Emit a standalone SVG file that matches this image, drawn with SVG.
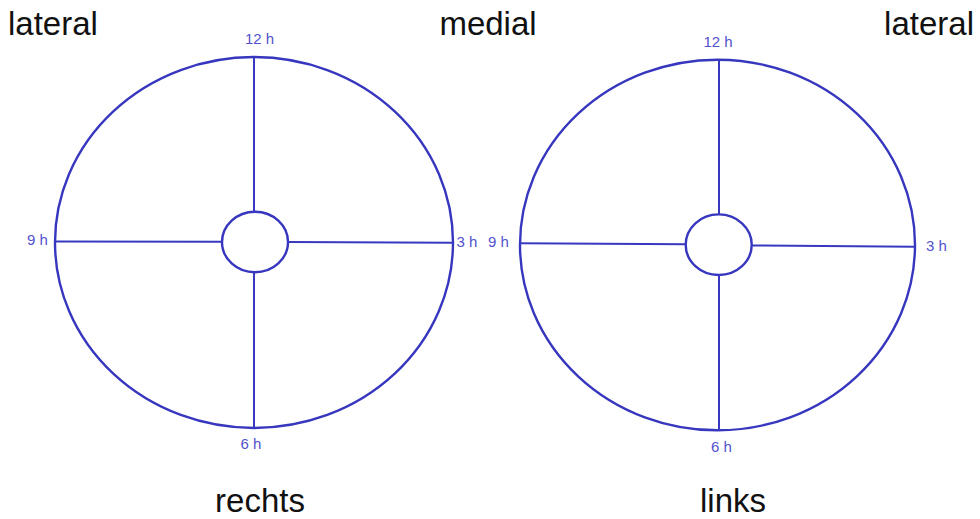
<svg xmlns="http://www.w3.org/2000/svg" width="980" height="519" viewBox="0 0 980 519">
<style>
.ring{fill:none;stroke:#3636be;stroke-width:2.4}
.ln{stroke:#3838c0;stroke-width:2}
.h{font-family:"Liberation Sans",Arial,sans-serif;font-size:15px;fill:#5252cc}
.big{font-family:"Liberation Sans",Arial,sans-serif;font-size:33px;fill:#111}
</style>
<rect width="980" height="519" fill="#fff"/>
<g id="labels">
<text class="big" x="8" y="35">lateral</text>
<text class="big" x="488" y="35" text-anchor="middle">medial</text>
<text class="big" x="974" y="35" text-anchor="end">lateral</text>
<text class="big" x="260" y="512" text-anchor="middle">rechts</text>
<text class="big" x="733" y="512" text-anchor="middle">links</text>
</g>
<g id="right-eye">
<ellipse class="ring" cx="254" cy="242.5" rx="199" ry="185.5"/>
<ellipse class="ring" cx="255" cy="242" rx="33" ry="30.3"/>
<text class="h" x="259.5" y="44" text-anchor="middle">12 h</text>
<text class="h" x="27" y="244.5">9 h</text>
<text class="h" x="456.5" y="246.5">3 h</text>
<text class="h" x="251" y="449" text-anchor="middle">6 h</text>
</g>
<g id="left-eye">
<ellipse class="ring" cx="717.5" cy="245" rx="197.5" ry="185.3"/>
<ellipse class="ring" cx="718.7" cy="244.7" rx="33" ry="30.3"/>
<text class="h" x="718" y="47" text-anchor="middle">12 h</text>
<text class="h" x="488" y="246.5">9 h</text>
<text class="h" x="926" y="250.5">3 h</text>
<text class="h" x="721.5" y="452" text-anchor="middle">6 h</text>
</g>
<g id="connectors">
<line class="ln" x1="254" y1="57" x2="254" y2="212"/>
<line class="ln" x1="254" y1="272" x2="254" y2="428"/>
<line class="ln" x1="55" y1="241.5" x2="222" y2="241.8"/>
<line class="ln" x1="288" y1="242" x2="453" y2="242.7"/>
<line class="ln" x1="719" y1="60" x2="719" y2="214.5"/>
<line class="ln" x1="719" y1="275" x2="719" y2="430.5"/>
<line class="ln" x1="520" y1="243.3" x2="686" y2="244.3"/>
<line class="ln" x1="751.7" y1="245.5" x2="915" y2="246.7"/>
</g>
</svg>
